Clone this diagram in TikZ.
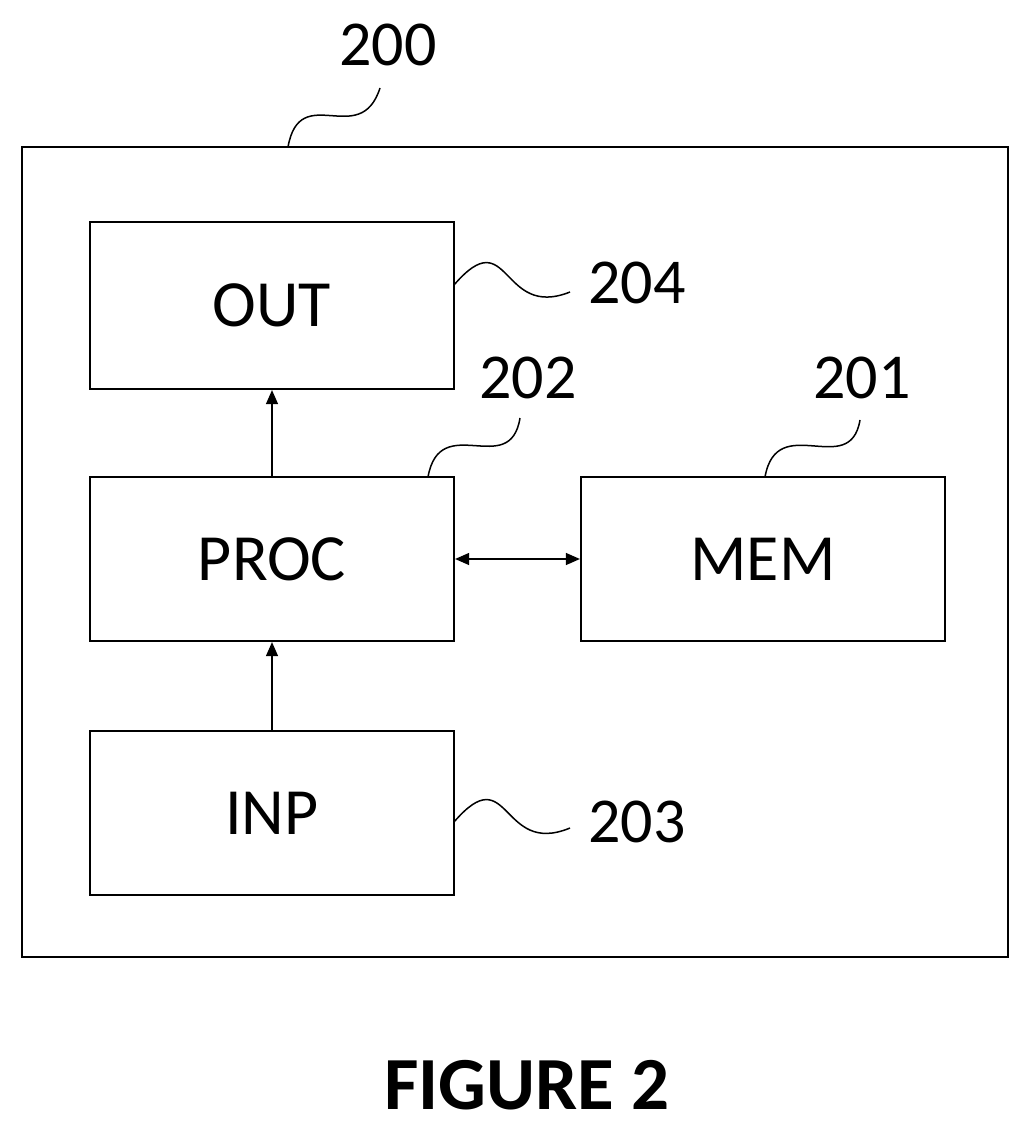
\documentclass[tikz,border=0pt]{standalone}
\usepackage{fontspec}
\setmainfont{Carlito}
\usetikzlibrary{arrows.meta}
\begin{document}
\begin{tikzpicture}[x=1pt,y=-1pt,
  box/.style={draw,line width=2.2pt},
  lbl/.style={font=\fontsize{66}{66}\selectfont},
  num/.style={font=\fontsize{64}{64}\selectfont},
  arr/.style={line width=1.2pt,-{Triangle[length=14pt,width=12pt]}},
  sq/.style={line width=1.5pt}]
\useasboundingbox (0,0) rectangle (1032,1131);
\draw[box] (22,147) rectangle (1008,957);
\coordinate (c200) at (288,147);
\node[box,minimum width=364pt,minimum height=167pt,lbl] (out) at (272,305.5) {OUT};
\node[box,minimum width=364pt,minimum height=164pt,lbl] (proc) at (272,559) {PROC};
\node[box,minimum width=364pt,minimum height=164pt,lbl] (mem) at (763,559) {MEM};
\node[box,minimum width=364pt,minimum height=164pt,lbl] (inp) at (272,813) {INP};
\draw[arr] (proc.north) -- (out.south);
\draw[arr] (inp.north) -- (proc.south);
\draw[arr,{Triangle[length=14pt,width=12pt]}-{Triangle[length=14pt,width=12pt]}] (proc.east) -- (mem.west);
\node[num] (n200) at (388,45) {200};
\node[num] (n204) at (637,283) {204};
\node[num] (n202) at (528,378) {202};
\node[num] (n201) at (862,378) {201};
\node[num] (n203) at (637,822) {203};
\coordinate (a200) at (380,88);
\coordinate (a204) at (570,292);
\coordinate (a202) at (520,418);
\coordinate (a201) at (860,420);
\coordinate (a203) at (570,828);
\coordinate (s204) at (454,285);
\coordinate (s202) at (428,477);
\coordinate (s201) at (765,477);
\coordinate (s203) at (454,822);
\draw[sq] (c200) .. controls (300,80) and (360,150) .. (a200);
\draw[sq] (s204) .. controls (510,220) and (500,320) .. (a204);
\draw[sq] (s202) .. controls (440,410) and (510,480) .. (a202);
\draw[sq] (s201) .. controls (777,410) and (850,480) .. (a201);
\draw[sq] (s203) .. controls (510,757) and (500,857) .. (a203);
\node[font=\bfseries\fontsize{75}{75}\selectfont] (fig) at (527,1085) {FIGURE 2};
\end{tikzpicture}
\end{document}
